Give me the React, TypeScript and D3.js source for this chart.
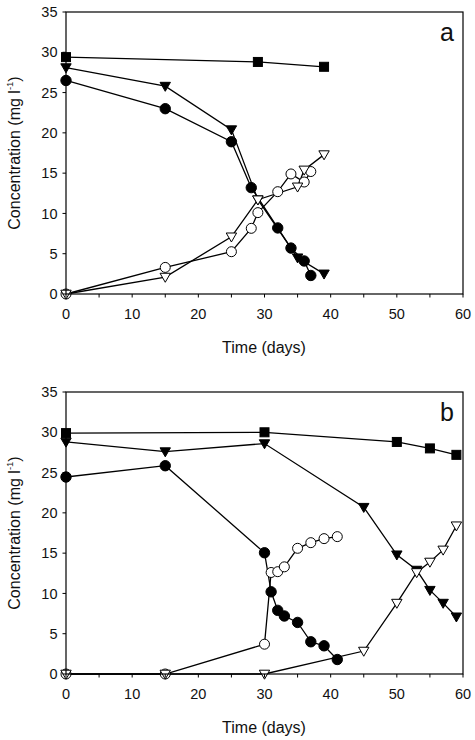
import React from "react";
import * as d3 from "d3";

// ---------- data ----------
const xTicks = [0, 10, 20, 30, 40, 50, 60];
const xMinorTicks = [0, 5, 10, 15, 20, 25, 30, 35, 40, 45, 50, 55, 60];
const yTicks = [0, 5, 10, 15, 20, 25, 30, 35];

// panel a
const aSquareX = [0, 29, 39];
const aSquareY = [29.4, 28.8, 28.2];
const aTriFX = [0, 15, 25, 29, 35, 39];
const aTriFY = [28.1, 25.8, 20.4, 11.7, 4.5, 2.5];
const aCircFX = [0, 15, 25, 28, 32, 34, 36, 37];
const aCircFY = [26.5, 23.0, 18.9, 13.2, 8.2, 5.7, 4.1, 2.3];
const aCircOX = [0, 15, 25, 28, 29, 32, 34, 36, 37];
const aCircOY = [0, 3.3, 5.25, 8.15, 10.1, 12.7, 14.9, 13.9, 15.2];
const aTriOX = [0, 15, 25, 29, 35, 36, 39];
const aTriOY = [0, 2.1, 7.1, 11.7, 13.3, 15.4, 17.3];

// panel b
const bSquareX = [0, 30, 50, 55, 59];
const bSquareY = [29.9, 30.0, 28.8, 28.0, 27.2];
const bTriFX = [0, 15, 30, 45, 50, 53, 55, 57, 59];
const bTriFY = [28.8, 27.6, 28.6, 20.7, 14.8, 12.9, 10.4, 8.8, 7.1];
const bCircFX = [0, 15, 30, 31, 32, 33, 35, 37, 39, 41];
const bCircFY = [24.45, 25.85, 15.05, 10.2, 7.9, 7.2, 6.4, 4.0, 3.5, 1.8];
const bCircOX = [0, 15, 30, 31, 32, 33, 35, 37, 39, 41];
const bCircOY = [0, 0, 3.7, 12.6, 12.7, 13.3, 15.6, 16.3, 16.8, 17.05];
const bTriOX = [0, 15, 30, 45, 50, 53, 55, 57, 59];
const bTriOY = [0, 0, 0, 2.85, 8.8, 12.6, 13.9, 15.4, 18.4];

type Kind = "square" | "triF" | "circF" | "circO" | "triO";
interface Series { kind: Kind; xs: number[]; ys: number[] }

const panelA: Series[] = [
  { kind: "square", xs: aSquareX, ys: aSquareY },
  { kind: "triF", xs: aTriFX, ys: aTriFY },
  { kind: "circF", xs: aCircFX, ys: aCircFY },
  { kind: "circO", xs: aCircOX, ys: aCircOY },
  { kind: "triO", xs: aTriOX, ys: aTriOY },
];
const panelB: Series[] = [
  { kind: "square", xs: bSquareX, ys: bSquareY },
  { kind: "triF", xs: bTriFX, ys: bTriFY },
  { kind: "circF", xs: bCircFX, ys: bCircFY },
  { kind: "circO", xs: bCircOX, ys: bCircOY },
  { kind: "triO", xs: bTriOX, ys: bTriOY },
];

const FONT = "'Liberation Sans', Arial, Helvetica, sans-serif";

function Marker({ kind, cx, cy }: { kind: Kind; cx: number; cy: number }) {
  const filled = kind === "square" || kind === "triF" || kind === "circF";
  const fill = filled ? "#000" : "#fff";
  if (kind === "square") {
    return <rect x={cx - 4.5} y={cy - 4.5} width={9} height={9} fill={fill} stroke="#000" strokeWidth={1} />;
  }
  if (kind === "circF" || kind === "circO") {
    return <circle cx={cx} cy={cy} r={filled ? 5.2 : 5} fill={fill} stroke="#000" strokeWidth={1} />;
  }
  const w = 5.2;
  const h1 = 3.8;
  const h2 = 5.2;
  const d = `M${cx - w},${cy - h1}L${cx + w},${cy - h1}L${cx},${cy + h2}Z`;
  return <path d={d} fill={fill} stroke="#000" strokeWidth={1} strokeLinejoin="miter" />;
}

function Panel({ top, bottom, series, letter }: { top: number; bottom: number; series: Series[]; letter: string }) {
  const left = 66;
  const right = 463;
  const x = d3.scaleLinear().domain([0, 60]).range([left, right]);
  const y = d3.scaleLinear().domain([0, 35]).range([bottom, top]);
  const line = d3
    .line<[number, number]>()
    .x((d) => x(d[0]))
    .y((d) => y(d[1]));
  const midY = (top + bottom) / 2;
  return (
    <g>
      {series.map((s, i) => (
        <path
          key={"l" + i}
          d={line(s.xs.map((v, j) => [v, s.ys[j]] as [number, number])) || ""}
          fill="none"
          stroke="#000"
          strokeWidth={1.3}
        />
      ))}
      {series.map((s, i) =>
        s.xs.map((v, j) => <Marker key={"m" + i + "-" + j} kind={s.kind} cx={x(v)} cy={y(s.ys[j])} />)
      )}
      {/* frame */}
      <rect x={left} y={top} width={right - left} height={bottom - top} fill="none" stroke="#000" strokeWidth={1.2} />
      {/* x ticks */}
      {xMinorTicks.map((t) => (
        <line key={"xt" + t} x1={x(t)} x2={x(t)} y1={bottom} y2={bottom + 3.5} stroke="#000" strokeWidth={1} />
      ))}
      {xTicks.map((t) => (
        <text key={"xl" + t} x={x(t)} y={bottom + 24.5} textAnchor="middle" fontFamily={FONT} fontSize={14.5} fill="#111">
          {t}
        </text>
      ))}
      {/* y ticks */}
      {yTicks.map((t) => (
        <g key={"yt" + t}>
          <line x1={left - 3.5} x2={left} y1={y(t)} y2={y(t)} stroke="#000" strokeWidth={1} />
          <text x={left - 8.5} y={y(t) + 5.2} textAnchor="end" fontFamily={FONT} fontSize={14.5} fill="#111">
            {t}
          </text>
        </g>
      ))}
      {/* axis titles */}
      <text x={(left + right) / 2 - 0.5} y={bottom + 58.5} textAnchor="middle" fontFamily={FONT} fontSize={16} fill="#111">
        Time (days)
      </text>
      <text
        transform={`translate(20,${midY}) rotate(-90)`}
        textAnchor="middle"
        fontFamily={FONT}
        fontSize={16}
        fill="#111"
      >
        Concentration (mg l
        <tspan fontSize={9.5} dy={-7}>-1</tspan>
        <tspan dy={7}>)</tspan>
      </text>
      <text x={447} y={top + 29} textAnchor="middle" fontFamily={FONT} fontSize={25} fill="#111">
        {letter}
      </text>
    </g>
  );
}

export default function App() {
  return (
    <svg
      width={475}
      height={740}
      style={{ position: "absolute", left: 0, top: 0, background: "#fff" }}
    >
      <rect width={475} height={740} fill="#fff" />
      <Panel top={12} bottom={294} series={panelA} letter="a" />
      <Panel top={392} bottom={674} series={panelB} letter="b" />
    </svg>
  );
}
